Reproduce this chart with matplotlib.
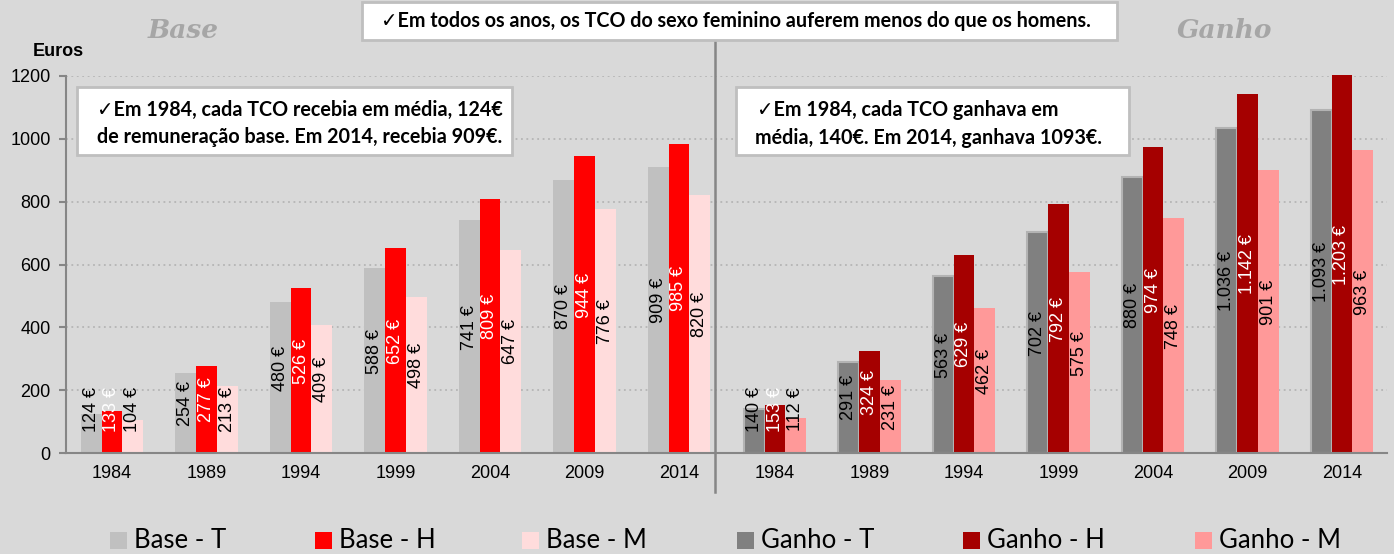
import matplotlib.pyplot as plt
import numpy as np
from matplotlib.patches import Rectangle
from matplotlib.lines import Line2D

# dados (euros)
anos = ["1984", "1989", "1994", "1999", "2004", "2009", "2014"]
base_t = [124, 254, 480, 588, 741, 870, 909]
base_h = [133, 277, 526, 652, 809, 944, 985]
base_m = [104, 213, 409, 498, 647, 776, 820]
ganho_t = [140, 291, 563, 702, 880, 1036, 1093]
ganho_h = [153, 324, 629, 792, 974, 1142, 1203]
ganho_m = [112, 231, 462, 575, 748, 901, 963]

W, H = 1394, 554
BG = "#d9d9d9"
AXC = "#868686"
NUM_FONT = ["Liberation Sans", "DejaVu Sans"]
BOX_FONT = ["Lato", "DejaVu Sans"]
plt.rcParams["font.family"] = NUM_FONT


def fx(px):
    return px / W


def fy(py):
    # pixel a contar de cima -> fracção da figura
    return 1 - py / H


def fmt(v):
    return f"{v:,}".replace(",", ".") + " €"


fig = plt.figure(figsize=(W / 100, H / 100), dpi=100, facecolor=BG)

y0, y1 = 453, 76
ax_l = fig.add_axes([fx(66), fy(y0), fx(715 - 66), (y0 - y1) / H])
ax_r = fig.add_axes([fx(715), fy(y0), fx(1387 - 715), (y0 - y1) / H])

spacing = 94.5
lims = {ax_l: (-(112 - 66) / spacing, (715 - 112) / spacing),
        ax_r: (-(775 - 715) / spacing, (1387 - 775) / spacing)}

series = {
    ax_l: [(base_t, "#c0c0c0", "black", None),
           (base_h, "#ff0000", "white", None),
           (base_m, "#ffdcdc", "black", None)],
    ax_r: [(ganho_t, "#808080", "black", "#b3b3b3"),
           (ganho_h, "#a50000", "white", None),
           (ganho_m, "#ff9999", "black", None)],
}

x = np.arange(len(anos))
w = 0.222
for ax, ser in series.items():
    ax.set_facecolor(BG)
    ax.set_xlim(*lims[ax])
    ax.set_ylim(0, 1200)
    ax.set_yticks(range(0, 1201, 200))
    ax.yaxis.grid(True, color="#b5b5b5", linestyle=(0, (1, 2)), linewidth=1.3)
    ax.set_axisbelow(True)
    for i, (vals, col, tcol, ecol) in enumerate(ser):
        xs = x + (i - 1) * w
        ax.bar(xs, vals, width=w, color=col, clip_on=False, zorder=2,
               edgecolor=ecol if ecol else col, linewidth=1.5 if ecol else 0)
        for xi, v in zip(xs, vals):
            ax.text(xi, max(v / 2 + 30, 138), fmt(v), rotation=90,
                    ha="center", va="center", color=tcol, fontsize=13,
                    family=NUM_FONT, zorder=3)
    ax.set_xticks(x)
    ax.set_xticklabels(anos, fontsize=13, family=NUM_FONT)
    ax.tick_params(axis="x", length=0, pad=9)
    for s in ["top", "right"]:
        ax.spines[s].set_visible(False)
    ax.spines["bottom"].set_color(AXC)
    ax.spines["bottom"].set_linewidth(1.5)

ax_l.spines["left"].set_color(AXC)
ax_l.spines["left"].set_linewidth(1.5)
ax_l.tick_params(axis="y", length=5, color=AXC, width=1.5, labelsize=13, pad=6)
for lab in ax_l.get_yticklabels():
    lab.set_family(NUM_FONT)
ax_r.spines["left"].set_visible(False)
ax_r.tick_params(axis="y", left=False, labelleft=False)

# linha divisória entre os dois painéis
fig.add_artist(Line2D([fx(715), fx(715)], [fy(40), fy(492)], color=AXC, linewidth=1.8))

fig.text(fx(33), fy(52), "Euros", fontsize=13, fontweight="bold", family=NUM_FONT,
         ha="left", va="center")

# títulos dos painéis
fig.text(fx(183), fy(30), "Base", fontsize=19, fontweight="bold", style="italic",
         family=["DejaVu Serif"], color="#a6a6a6", ha="center", va="center")
fig.text(fx(1225), fy(30), "Ganho", fontsize=19, fontweight="bold", style="italic",
         family=["DejaVu Serif"], color="#a6a6a6", ha="center", va="center")


def caixa(x0, ytop, x1, ybot):
    fig.add_artist(Rectangle((fx(x0), fy(ybot)), fx(x1 - x0), (ybot - ytop) / H,
                             facecolor="white", edgecolor="#bfbfbf", linewidth=2,
                             transform=fig.transFigure, zorder=5))


BOX_FS = 14.2
caixa(362, 2, 1117, 40)
fig.text(fx(381), fy(21), "✓Em todos os anos, os TCO do sexo feminino auferem menos do que os homens.",
         fontsize=BOX_FS, fontweight="bold", family=BOX_FONT, ha="left", va="center", zorder=6)

caixa(77, 87, 512, 155)
fig.text(fx(97), fy(110), "✓Em 1984, cada TCO recebia em média, 124€",
         fontsize=BOX_FS, fontweight="bold", family=BOX_FONT, ha="left", va="center", zorder=6)
fig.text(fx(97), fy(137), "de remuneração base. Em 2014, recebia 909€.",
         fontsize=BOX_FS, fontweight="bold", family=BOX_FONT, ha="left", va="center", zorder=6)

caixa(736, 87, 1129, 155)
fig.text(fx(757), fy(110), "✓Em 1984, cada TCO ganhava em",
         fontsize=BOX_FS, fontweight="bold", family=BOX_FONT, ha="left", va="center", zorder=6)
fig.text(fx(755), fy(138), "média, 140€. Em 2014, ganhava 1093€.",
         fontsize=BOX_FS, fontweight="bold", family=BOX_FONT, ha="left", va="center", zorder=6)

# legenda desenhada à mão, como no original
leg_names = ["Base - T", "Base - H", "Base - M", "Ganho - T", "Ganho - H", "Ganho - M"]
leg_cols = ["#c0c0c0", "#ff0000", "#ffdcdc", "#808080", "#a50000", "#ff9999"]
leg_x = [110, 315, 522, 737, 963, 1195]
for nm, col, lx in zip(leg_names, leg_cols, leg_x):
    fig.add_artist(Rectangle((fx(lx), fy(549)), fx(17), 17 / H, facecolor=col,
                             edgecolor="none", transform=fig.transFigure))
    fig.text(fx(lx + 24), fy(540), nm, fontsize=18.5, family=BOX_FONT,
             ha="left", va="center")

fig.savefig("out.png", dpi=100, facecolor=BG)
